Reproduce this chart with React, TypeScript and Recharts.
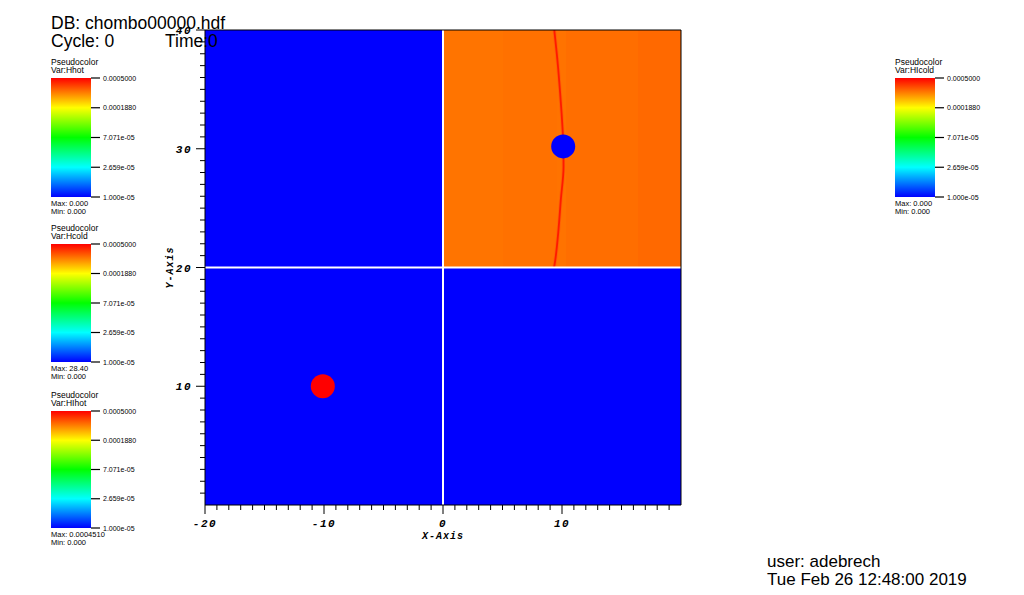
import React from 'react';
import { ComposedChart, XAxis, YAxis, ReferenceArea, ReferenceLine, Line, Scatter } from 'recharts';

// plot extents (domain units)
const xDomain: [number, number] = [-20, 20];
const yDomain: [number, number] = [0, 40];
const xMajorTicks = [-20, -10, 0, 10];
const yMajorTicks = [10, 20, 30, 40];
const xTicks = Array.from({ length: 40 }, (_, i) => i - 20);
const yTicks = Array.from({ length: 40 }, (_, i) => i + 1);

// upper-right patch: vertical bands of slightly different orange
const bandEdges = [0, 5, 9.6, 10.3, 16.4, 20];
const bandColors = ['#ff7400', '#ff7100', '#ff7300', '#ff6e00', '#ff6900'];

// thin front running through the upper-right patch
const frontLine = [
  { x: 9.35, y: 40 },
  { x: 9.62, y: 37.4 },
  { x: 9.85, y: 34.6 },
  { x: 10.04, y: 31.8 },
  { x: 10.12, y: 30.2 },
  { x: 10.13, y: 28.5 },
  { x: 9.9, y: 25.7 },
  { x: 9.68, y: 22.9 },
  { x: 9.4, y: 20.4 },
  { x: 9.33, y: 20 },
];

const hotSpots = [{ x: -10.1, y: 10 }];
const coldSpots = [{ x: 10.1, y: 30.2 }];

// colour bar legends
const legendTickLabels = ['1.000e-05', '2.659e-05', '7.071e-05', '0.0001880', '0.0005000'];
const legendVars = ['Hhot', 'Hcold', 'HIhot', 'HIcold'];
const legendMax = ['0.000', '28.40', '0.0004510', '0.000'];
const legendMin = ['0.000', '0.000', '0.000', '0.000'];

const tickFont = {
  fontFamily: '"Liberation Mono", "DejaVu Sans Mono", monospace',
  fontStyle: 'italic' as const,
  fontWeight: 'bold' as const,
  fontSize: 11,
  letterSpacing: 1.5,
  fill: '#000',
};

const XTick = (props: any) => {
  const { x, y, payload } = props;
  const major = xMajorTicks.includes(payload.value);
  return (
    <g>
      <line x1={x} x2={x} y1={y} y2={y + (major ? 9 : 5)} stroke="#000" strokeWidth={1} />
      {major && (
        <text x={x} y={y + 22} textAnchor="middle" {...tickFont}>
          {payload.value}
        </text>
      )}
    </g>
  );
};

const YTick = (props: any) => {
  const { x, y, payload } = props;
  const major = yMajorTicks.includes(payload.value);
  return (
    <g>
      <line x1={x - (major ? 9 : 5)} x2={x} y1={y} y2={y} stroke="#000" strokeWidth={1} />
      {major && (
        <text x={x - 13} y={y + 4} textAnchor="end" {...tickFont}>
          {payload.value}
        </text>
      )}
    </g>
  );
};

const axisTitleFont = {
  fontFamily: '"Liberation Mono", "DejaVu Sans Mono", monospace',
  fontStyle: 'italic' as const,
  fontWeight: 'bold' as const,
  fontSize: 10,
  letterSpacing: 1,
  fill: '#000',
};

const XTitle = ({ viewBox }: any) => (
  <text x={viewBox.x + viewBox.width / 2} y={viewBox.y + 34} textAnchor="middle" {...axisTitleFont}>
    X-Axis
  </text>
);

const YTitle = ({ viewBox }: any) => {
  const cx = viewBox.x + viewBox.width - 32;
  const cy = viewBox.y + viewBox.height / 2;
  return (
    <text x={cx} y={cy} textAnchor="middle" transform={`rotate(-90 ${cx} ${cy})`} {...axisTitleFont}>
      Y-Axis
    </text>
  );
};

const sans = '"Liberation Sans", Arial, sans-serif';

const ColorLegend = ({ x, top, h, idx }: { x: number; top: number; h: number; idx: number }) => (
  <g fontFamily={sans} fill="#000">
    <text x={x} y={top - 13} fontSize={8.5}>Pseudocolor</text>
    <text x={x} y={top - 5} fontSize={8.5}>Var:{legendVars[idx]}</text>
    <rect x={x} y={top} width={40} height={h} fill="url(#pseudoGrad)" />
    {legendTickLabels.map((label, i) => {
      const ty = top + h - (i * h) / 4;
      return (
        <g key={label}>
          <line x1={x + 40} x2={x + 49} y1={ty} y2={ty} stroke="#000" strokeWidth={1.2} />
          <text x={x + 52} y={ty + 2.5} fontSize={7}>{label}</text>
        </g>
      );
    })}
    <text x={x} y={top + h + 9} fontSize={7.5}>Max: {legendMax[idx]}</text>
    <text x={x} y={top + h + 16.5} fontSize={7.5}>Min: {legendMin[idx]}</text>
  </g>
);

const Dot = (color: string) => (props: any) => <circle cx={props.cx} cy={props.cy} r={12} fill={color} />;

export default function App() {
  return (
    <div style={{ position: 'absolute', left: 0, top: 0, width: 1024, height: 595, background: '#fff' }}>
      <ComposedChart
        width={1024}
        height={595}
        margin={{ top: 30, right: 343, bottom: 89, left: 204 }}
      >
        <ReferenceArea x1={-20} x2={20} y1={0} y2={40} fill="#0000ff" fillOpacity={1} stroke="none" />
        <ReferenceArea x1={0} x2={20} y1={20} y2={40} fill="#ff7100" fillOpacity={1} stroke="none" />
        {bandColors.map((c, i) => (
          <ReferenceArea
            key={i}
            x1={bandEdges[i]}
            x2={bandEdges[i + 1]}
            y1={20}
            y2={40}
            fill={c}
            fillOpacity={1}
            stroke="none"
            shapeRendering="crispEdges"
          />
        ))}
        <Line
          data={frontLine}
          dataKey="y"
          type="monotoneY"
          stroke="#ff4010"
          strokeWidth={3.5}
          strokeOpacity={0.35}
          dot={false}
          isAnimationActive={false}
        />
        <Line
          data={frontLine}
          dataKey="y"
          type="monotoneY"
          stroke="#ff1a00"
          strokeWidth={1.8}
          dot={false}
          isAnimationActive={false}
        />
        <ReferenceLine x={0} stroke="#fff" strokeWidth={2} />
        <ReferenceLine y={20} stroke="#fff" strokeWidth={2} />
        <ReferenceLine x={20} stroke="#000" strokeWidth={1} />
        <ReferenceLine y={40} stroke="#000" strokeWidth={1} />
        <Scatter data={hotSpots} shape={Dot('#ff0000')} isAnimationActive={false} />
        <Scatter data={coldSpots} shape={Dot('#0000ff')} isAnimationActive={false} />
        <XAxis
          type="number"
          dataKey="x"
          domain={xDomain}
          allowDataOverflow
          ticks={xTicks}
          interval={0}
          height={1}
          tickSize={0}
          tickMargin={0}
          tick={<XTick />}
          axisLine={{ stroke: '#000', strokeWidth: 1 }}
          label={<XTitle />}
        />
        <YAxis
          type="number"
          dataKey="y"
          domain={yDomain}
          allowDataOverflow
          ticks={yTicks}
          interval={0}
          width={1}
          tickSize={0}
          tickMargin={0}
          tick={<YTick />}
          axisLine={{ stroke: '#000', strokeWidth: 1 }}
          label={<YTitle />}
        />
      </ComposedChart>

      <svg
        width={1024}
        height={595}
        style={{ position: 'absolute', left: 0, top: 0, pointerEvents: 'none' }}
      >
        <defs>
          <linearGradient id="pseudoGrad" x1="0" y1="1" x2="0" y2="0">
            <stop offset="0" stopColor="#0000ff" />
            <stop offset="0.25" stopColor="#00ffff" />
            <stop offset="0.5" stopColor="#00ff00" />
            <stop offset="0.75" stopColor="#ffff00" />
            <stop offset="1" stopColor="#ff0000" />
          </linearGradient>
        </defs>
        <g fontFamily={sans} fill="#000" fontSize={17.5}>
          <text x={51} y={29}>DB: chombo00000.hdf</text>
          <text x={51} y={46.5}>Cycle: 0</text>
          <text x={165} y={46.5}>Time:0</text>
        </g>
        <ColorLegend x={51} top={78} h={119} idx={0} />
        <ColorLegend x={51} top={244} h={118} idx={1} />
        <ColorLegend x={51} top={411} h={117} idx={2} />
        <ColorLegend x={895} top={78} h={119} idx={3} />
        <g fontFamily={sans} fill="#000" fontSize={17}>
          <text x={767} y={567}>user: adebrech</text>
          <text x={767} y={585}>Tue Feb 26 12:48:00 2019</text>
        </g>
      </svg>
    </div>
  );
}
